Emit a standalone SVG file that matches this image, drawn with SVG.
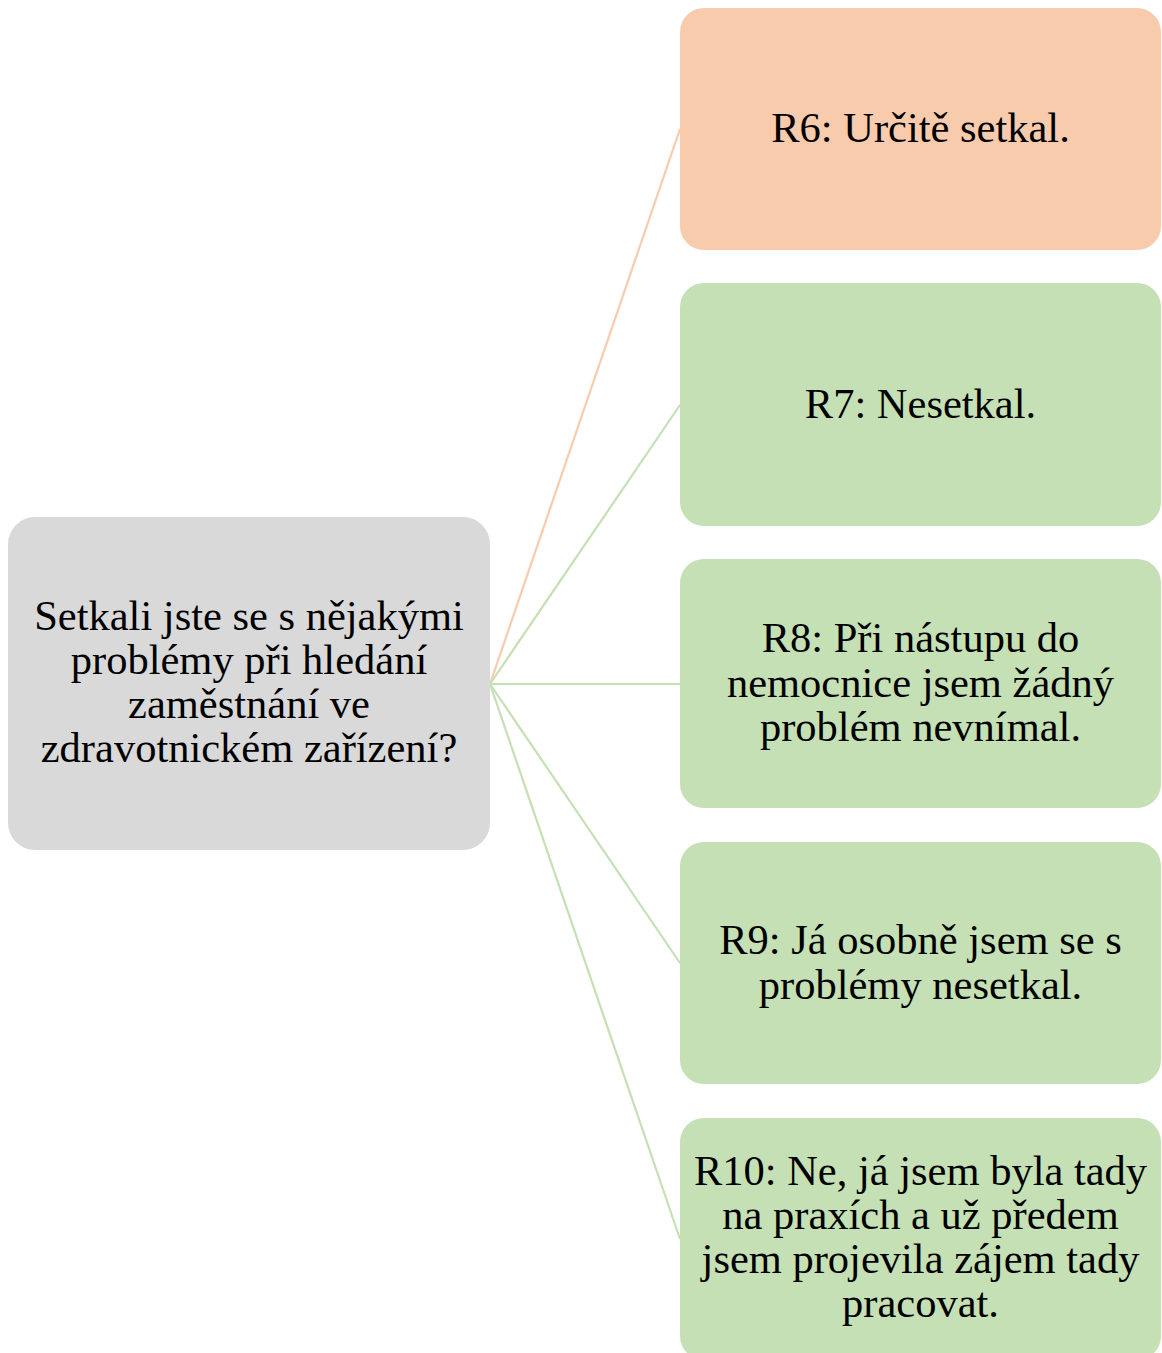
<svg xmlns="http://www.w3.org/2000/svg" width="1162" height="1353" viewBox="0 0 1162 1353">
  <style>
    .lbl { font-family: "Liberation Serif", "Times New Roman", serif; font-size: 42.5px; fill: #000; text-anchor: middle; }
    .root { fill: #D9D9D9; }
    .warm { fill: #F8CBAD; }
    .cool { fill: #C5E0B4; }
    .c-warm { stroke: #F8CBAD; stroke-width: 2.2; fill: none; }
    .c-cool { stroke: #C5E0B4; stroke-width: 2.2; fill: none; }
  </style>
  <rect width="1162" height="1353" fill="#FFFFFF"/>

  <!-- branches from the question to each answer -->
  <g id="connectors">
    <line class="c-warm" x1="490" y1="684" x2="680" y2="129"/>
    <line class="c-cool" x1="490" y1="684" x2="680" y2="405"/>
    <line class="c-cool" x1="490" y1="684" x2="680" y2="684"/>
    <line class="c-cool" x1="490" y1="684" x2="680" y2="963"/>
    <line class="c-cool" x1="490" y1="684" x2="680" y2="1239"/>
  </g>

  <g id="question">
    <rect class="root" x="8" y="517" width="482" height="333" rx="27" ry="27"/>
    <text class="lbl" x="249" y="630">Setkali jste se s nějakými</text>
    <text class="lbl" x="249" y="674">problémy při hledání</text>
    <text class="lbl" x="249" y="718">zaměstnání ve</text>
    <text class="lbl" x="249" y="762">zdravotnickém zařízení?</text>
  </g>

  <g id="r6">
    <rect class="warm" x="680" y="8" width="481" height="242" rx="24" ry="24"/>
    <text class="lbl" x="920.5" y="142">R6: Určitě setkal.</text>
  </g>

  <g id="r7">
    <rect class="cool" x="680" y="283" width="481" height="243" rx="24" ry="24"/>
    <text class="lbl" x="920.5" y="418">R7: Nesetkal.</text>
  </g>

  <g id="r8">
    <rect class="cool" x="680" y="559" width="481" height="249" rx="24" ry="24"/>
    <text class="lbl" x="920.5" y="652">R8: Při nástupu do</text>
    <text class="lbl" x="920.5" y="697">nemocnice jsem žádný</text>
    <text class="lbl" x="920.5" y="741">problém nevnímal.</text>
  </g>

  <g id="r9">
    <rect class="cool" x="680" y="842" width="481" height="242" rx="24" ry="24"/>
    <text class="lbl" x="920.5" y="954">R9: Já osobně jsem se s</text>
    <text class="lbl" x="920.5" y="999">problémy nesetkal.</text>
  </g>

  <g id="r10">
    <rect class="cool" x="680" y="1118" width="481" height="242" rx="24" ry="24"/>
    <text class="lbl" x="920.5" y="1185">R10: Ne, já jsem byla tady</text>
    <text class="lbl" x="920.5" y="1229">na praxích a už předem</text>
    <text class="lbl" x="920.5" y="1273">jsem projevila zájem tady</text>
    <text class="lbl" x="920.5" y="1317">pracovat.</text>
  </g>
</svg>
